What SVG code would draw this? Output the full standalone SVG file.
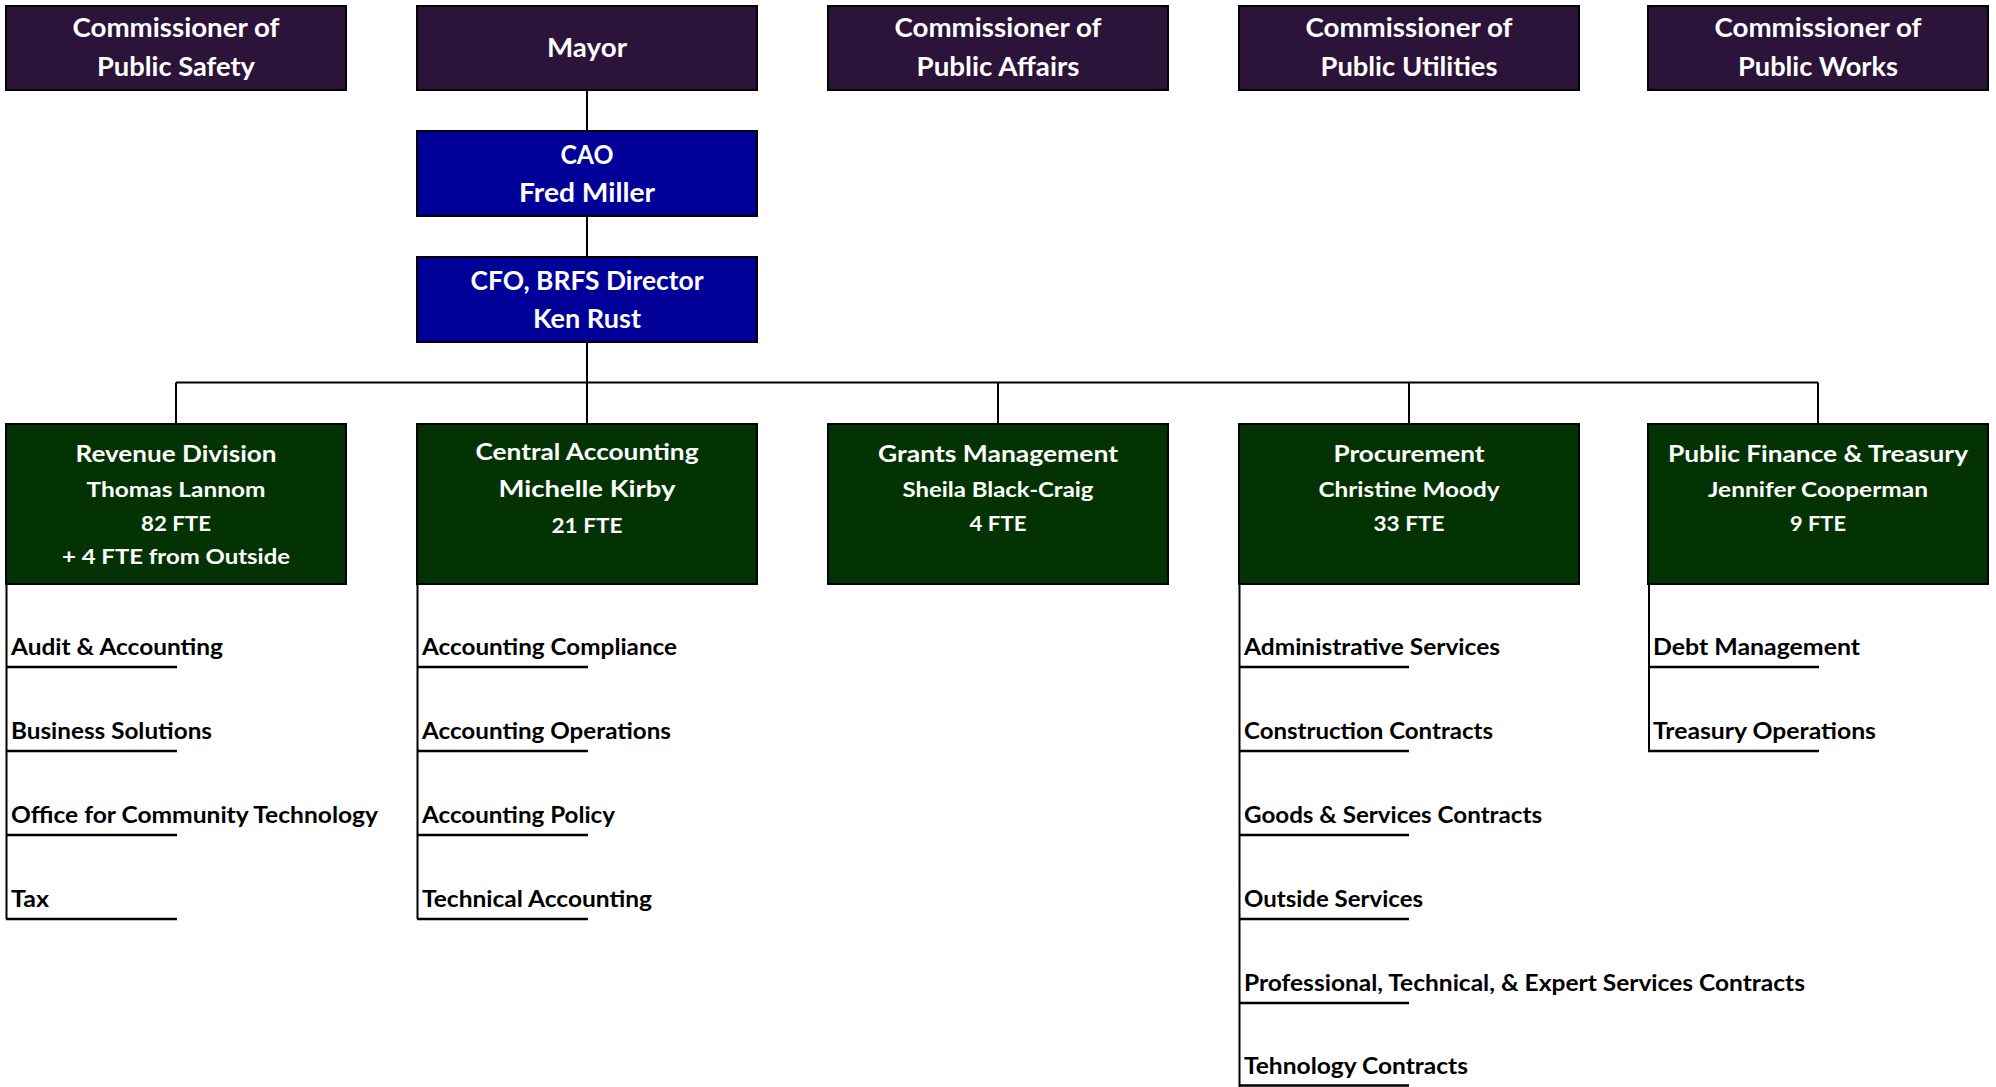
<svg xmlns="http://www.w3.org/2000/svg" width="1996" height="1087" viewBox="0 0 1996 1087">
<style>
.box{stroke:#000;stroke-width:2}
.pur{fill:#2B1339}
.blu{fill:#000099}
.grn{fill:#033303}
text{font-family:Lato,"Liberation Sans",sans-serif;font-weight:700}
.w{fill:#fff;text-anchor:middle}
.hd{font-size:26px}
.ti{font-size:23.5px}
.nm{font-size:20px}
.s{fill:#000;font-size:22px}
.ln{stroke:#000;stroke-width:2;fill:none}
.ul{stroke:#000;stroke-width:2.5;fill:none}
</style>
<rect width="1996" height="1087" fill="#fff"/>
<g id="connectors">
<path class="ln" d="M587,90V131M587,216V257M587,342V424M176,382.5H1818M176,382.5V424M998,382.5V424M1409,382.5V424M1818,382.5V424"/>
<path class="ln" d="M6.5,584V919M417.5,584V919M1239.5,584V1087M1649,584V751"/>
<path class="ul" d="M6,667H177M6,751H177M6,835H177M6,919H177M417,667H588M417,751H588M417,835H588M417,919H588M1239,667H1409M1239,751H1409M1239,835H1409M1239,919H1409M1239,1003H1409M1239,1085.5H1409M1648,667H1819M1648,751H1819"/>
</g>
<g id="commissioner-public-safety">
<rect class="box pur" x="6" y="6" width="340" height="84"/>
<text class="w hd" x="176" y="37" textLength="207" lengthAdjust="spacingAndGlyphs">Commissioner of</text>
<text class="w hd" x="176" y="76" textLength="158" lengthAdjust="spacingAndGlyphs">Public Safety</text>
</g>
<g id="mayor">
<rect class="box pur" x="417" y="6" width="340" height="84"/>
<text class="w hd" x="587" y="57" textLength="80" lengthAdjust="spacingAndGlyphs">Mayor</text>
</g>
<g id="commissioner-public-affairs">
<rect class="box pur" x="828" y="6" width="340" height="84"/>
<text class="w hd" x="998" y="37" textLength="207" lengthAdjust="spacingAndGlyphs">Commissioner of</text>
<text class="w hd" x="998" y="76" textLength="163" lengthAdjust="spacingAndGlyphs">Public Affairs</text>
</g>
<g id="commissioner-public-utilities">
<rect class="box pur" x="1239" y="6" width="340" height="84"/>
<text class="w hd" x="1409" y="37" textLength="207" lengthAdjust="spacingAndGlyphs">Commissioner of</text>
<text class="w hd" x="1409" y="76" textLength="177" lengthAdjust="spacingAndGlyphs">Public Utilities</text>
</g>
<g id="commissioner-public-works">
<rect class="box pur" x="1648" y="6" width="340" height="84"/>
<text class="w hd" x="1818" y="37" textLength="207" lengthAdjust="spacingAndGlyphs">Commissioner of</text>
<text class="w hd" x="1818" y="76" textLength="160" lengthAdjust="spacingAndGlyphs">Public Works</text>
</g>
<g id="cao">
<rect class="box blu" x="417" y="131" width="340" height="85"/>
<text class="w hd" x="587" y="164" textLength="53" lengthAdjust="spacingAndGlyphs">CAO</text>
<text class="w hd" x="587" y="202" textLength="136" lengthAdjust="spacingAndGlyphs">Fred Miller</text>
</g>
<g id="cfo">
<rect class="box blu" x="417" y="257" width="340" height="85"/>
<text class="w hd" x="587" y="290" textLength="233" lengthAdjust="spacingAndGlyphs">CFO, BRFS Director</text>
<text class="w hd" x="587" y="328" textLength="108" lengthAdjust="spacingAndGlyphs">Ken Rust</text>
</g>
<g id="revenue-division">
<rect class="box grn" x="6" y="424" width="340" height="160"/>
<text class="w ti" x="176" y="462" textLength="201" lengthAdjust="spacingAndGlyphs">Revenue Division</text>
<text class="w nm" x="176" y="497" textLength="179" lengthAdjust="spacingAndGlyphs">Thomas Lannom</text>
<text class="w nm" x="176" y="531" textLength="70" lengthAdjust="spacingAndGlyphs">82 FTE</text>
<text class="w nm" x="176" y="564" textLength="228" lengthAdjust="spacingAndGlyphs">+ 4 FTE from Outside</text>
</g>
<g id="central-accounting">
<rect class="box grn" x="417" y="424" width="340" height="160"/>
<text class="w ti" x="587" y="460" textLength="223" lengthAdjust="spacingAndGlyphs">Central Accounting</text>
<text class="w ti" x="587" y="497" textLength="177" lengthAdjust="spacingAndGlyphs">Michelle Kirby</text>
<text class="w nm" x="587" y="533" textLength="71" lengthAdjust="spacingAndGlyphs">21 FTE</text>
</g>
<g id="grants-management">
<rect class="box grn" x="828" y="424" width="340" height="160"/>
<text class="w ti" x="998" y="462" textLength="240" lengthAdjust="spacingAndGlyphs">Grants Management</text>
<text class="w nm" x="998" y="497" textLength="191" lengthAdjust="spacingAndGlyphs">Sheila Black-Craig</text>
<text class="w nm" x="998" y="531" textLength="57" lengthAdjust="spacingAndGlyphs">4 FTE</text>
</g>
<g id="procurement">
<rect class="box grn" x="1239" y="424" width="340" height="160"/>
<text class="w ti" x="1409" y="462" textLength="151" lengthAdjust="spacingAndGlyphs">Procurement</text>
<text class="w nm" x="1409" y="497" textLength="181" lengthAdjust="spacingAndGlyphs">Christine Moody</text>
<text class="w nm" x="1409" y="531" textLength="71" lengthAdjust="spacingAndGlyphs">33 FTE</text>
</g>
<g id="public-finance-treasury">
<rect class="box grn" x="1648" y="424" width="340" height="160"/>
<text class="w ti" x="1818" y="462" textLength="300" lengthAdjust="spacingAndGlyphs">Public Finance &amp; Treasury</text>
<text class="w nm" x="1818" y="497" textLength="220" lengthAdjust="spacingAndGlyphs">Jennifer Cooperman</text>
<text class="w nm" x="1818" y="531" textLength="56" lengthAdjust="spacingAndGlyphs">9 FTE</text>
</g>
<g id="revenue-units">
<text class="s" x="11" y="655" textLength="212" lengthAdjust="spacingAndGlyphs">Audit &amp; Accounting</text>
<text class="s" x="11" y="739" textLength="201" lengthAdjust="spacingAndGlyphs">Business Solutions</text>
<text class="s" x="11" y="823" textLength="367" lengthAdjust="spacingAndGlyphs">Office for Community Technology</text>
<text class="s" x="11" y="907" textLength="38" lengthAdjust="spacingAndGlyphs">Tax</text>
</g>
<g id="central-accounting-units">
<text class="s" x="422" y="655" textLength="255" lengthAdjust="spacingAndGlyphs">Accounting Compliance</text>
<text class="s" x="422" y="739" textLength="249" lengthAdjust="spacingAndGlyphs">Accounting Operations</text>
<text class="s" x="422" y="823" textLength="193" lengthAdjust="spacingAndGlyphs">Accounting Policy</text>
<text class="s" x="422" y="907" textLength="230" lengthAdjust="spacingAndGlyphs">Technical Accounting</text>
</g>
<g id="procurement-units">
<text class="s" x="1244" y="655" textLength="256" lengthAdjust="spacingAndGlyphs">Administrative Services</text>
<text class="s" x="1244" y="739" textLength="249" lengthAdjust="spacingAndGlyphs">Construction Contracts</text>
<text class="s" x="1244" y="823" textLength="298" lengthAdjust="spacingAndGlyphs">Goods &amp; Services Contracts</text>
<text class="s" x="1244" y="907" textLength="179" lengthAdjust="spacingAndGlyphs">Outside Services</text>
<text class="s" x="1244" y="991" textLength="561" lengthAdjust="spacingAndGlyphs">Professional, Technical, &amp; Expert Services Contracts</text>
<text class="s" x="1244" y="1074" textLength="224" lengthAdjust="spacingAndGlyphs">Tehnology Contracts</text>
</g>
<g id="public-finance-units">
<text class="s" x="1653" y="655" textLength="207" lengthAdjust="spacingAndGlyphs">Debt Management</text>
<text class="s" x="1653" y="739" textLength="223" lengthAdjust="spacingAndGlyphs">Treasury Operations</text>
</g>
</svg>
